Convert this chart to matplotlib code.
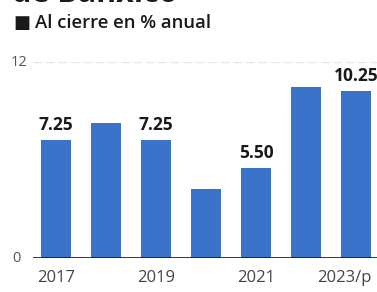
import numpy as np
import matplotlib as mpl
mpl.use('Agg')
import matplotlib.pyplot as plt

### data ###
years = ['2017', '2018', '2019', '2020', '2021', '2022', '2023/p']
rates = [7.25, 8.25, 7.25, 4.25, 5.50, 10.50, 10.25]
labelled = ['2017', '2019', '2021', '2023/p']    # bars that carry a value label
tick_years = ['2017', '2019', '2021', '2023/p']

plt.rcParams['font.family'] = ['Open Sans', 'DejaVu Sans']

fig = plt.figure(figsize=(3.77, 2.92), dpi=100)
ax = fig.add_axes([33/377, 1 - 258/292, 344/377, (258 - 62)/292])

x = np.arange(len(years))
ax.bar(x, rates, width=0.6, color='#3a73c9', zorder=2)

for i, (yr, v) in enumerate(zip(years, rates)):
	if yr in labelled:
		ax.text(i, v + 0.35, '%.2f' % v, ha='center', va='bottom', fontsize=12.5,
			fontweight='bold', color='#1a1a1a', clip_on=False)

ax.set_xlim(-0.46, 6.42)
ax.set_ylim(0, 12)

# faint dashed top grid line and dark baseline
ax.axhline(12, color='#e6e6e6', lw=1, ls=(0, (6, 3)), zorder=1)
ax.axhline(0, color='#222222', lw=2, zorder=3)

for s in ax.spines.values():
	s.set_visible(False)
ax.set_yticks([])
ax.set_xticks([])
# year labels; the last one is pulled in so it stays inside the picture
for t in tick_years:
	i = years.index(t)
	if i == len(years) - 1:
		ax.text(i + 0.3, -0.75, t, ha='right', va='top', fontsize=12, color='#444444')
	else:
		ax.text(i, -0.75, t, ha='center', va='top', fontsize=12, color='#444444')

# y labels drawn as text, left aligned like the reference
fig.text(12/377, 1 - 258/292, '0', ha='left', va='center', fontsize=10.5, color='#555555')
fig.text(11/377, 1 - 62/292, '12', ha='left', va='center', fontsize=10.5, color='#555555')

# title cut off at the top and subtitle
fig.text(12/377, 1 - 2/292, 'de Banxico', ha='left', va='baseline', fontsize=22,
	fontweight='bold', color='#1a1a1a')
fig.text(13/377, 1 - 23/292, '■', ha='left', va='center', fontsize=13, color='#1a1a1a')
fig.text(35/377, 1 - 23/292, 'Al cierre en % anual', ha='left', va='center', fontsize=13.3,
	fontweight='semibold', color='#1a1a1a')

plt.savefig('out.png', dpi=100)
